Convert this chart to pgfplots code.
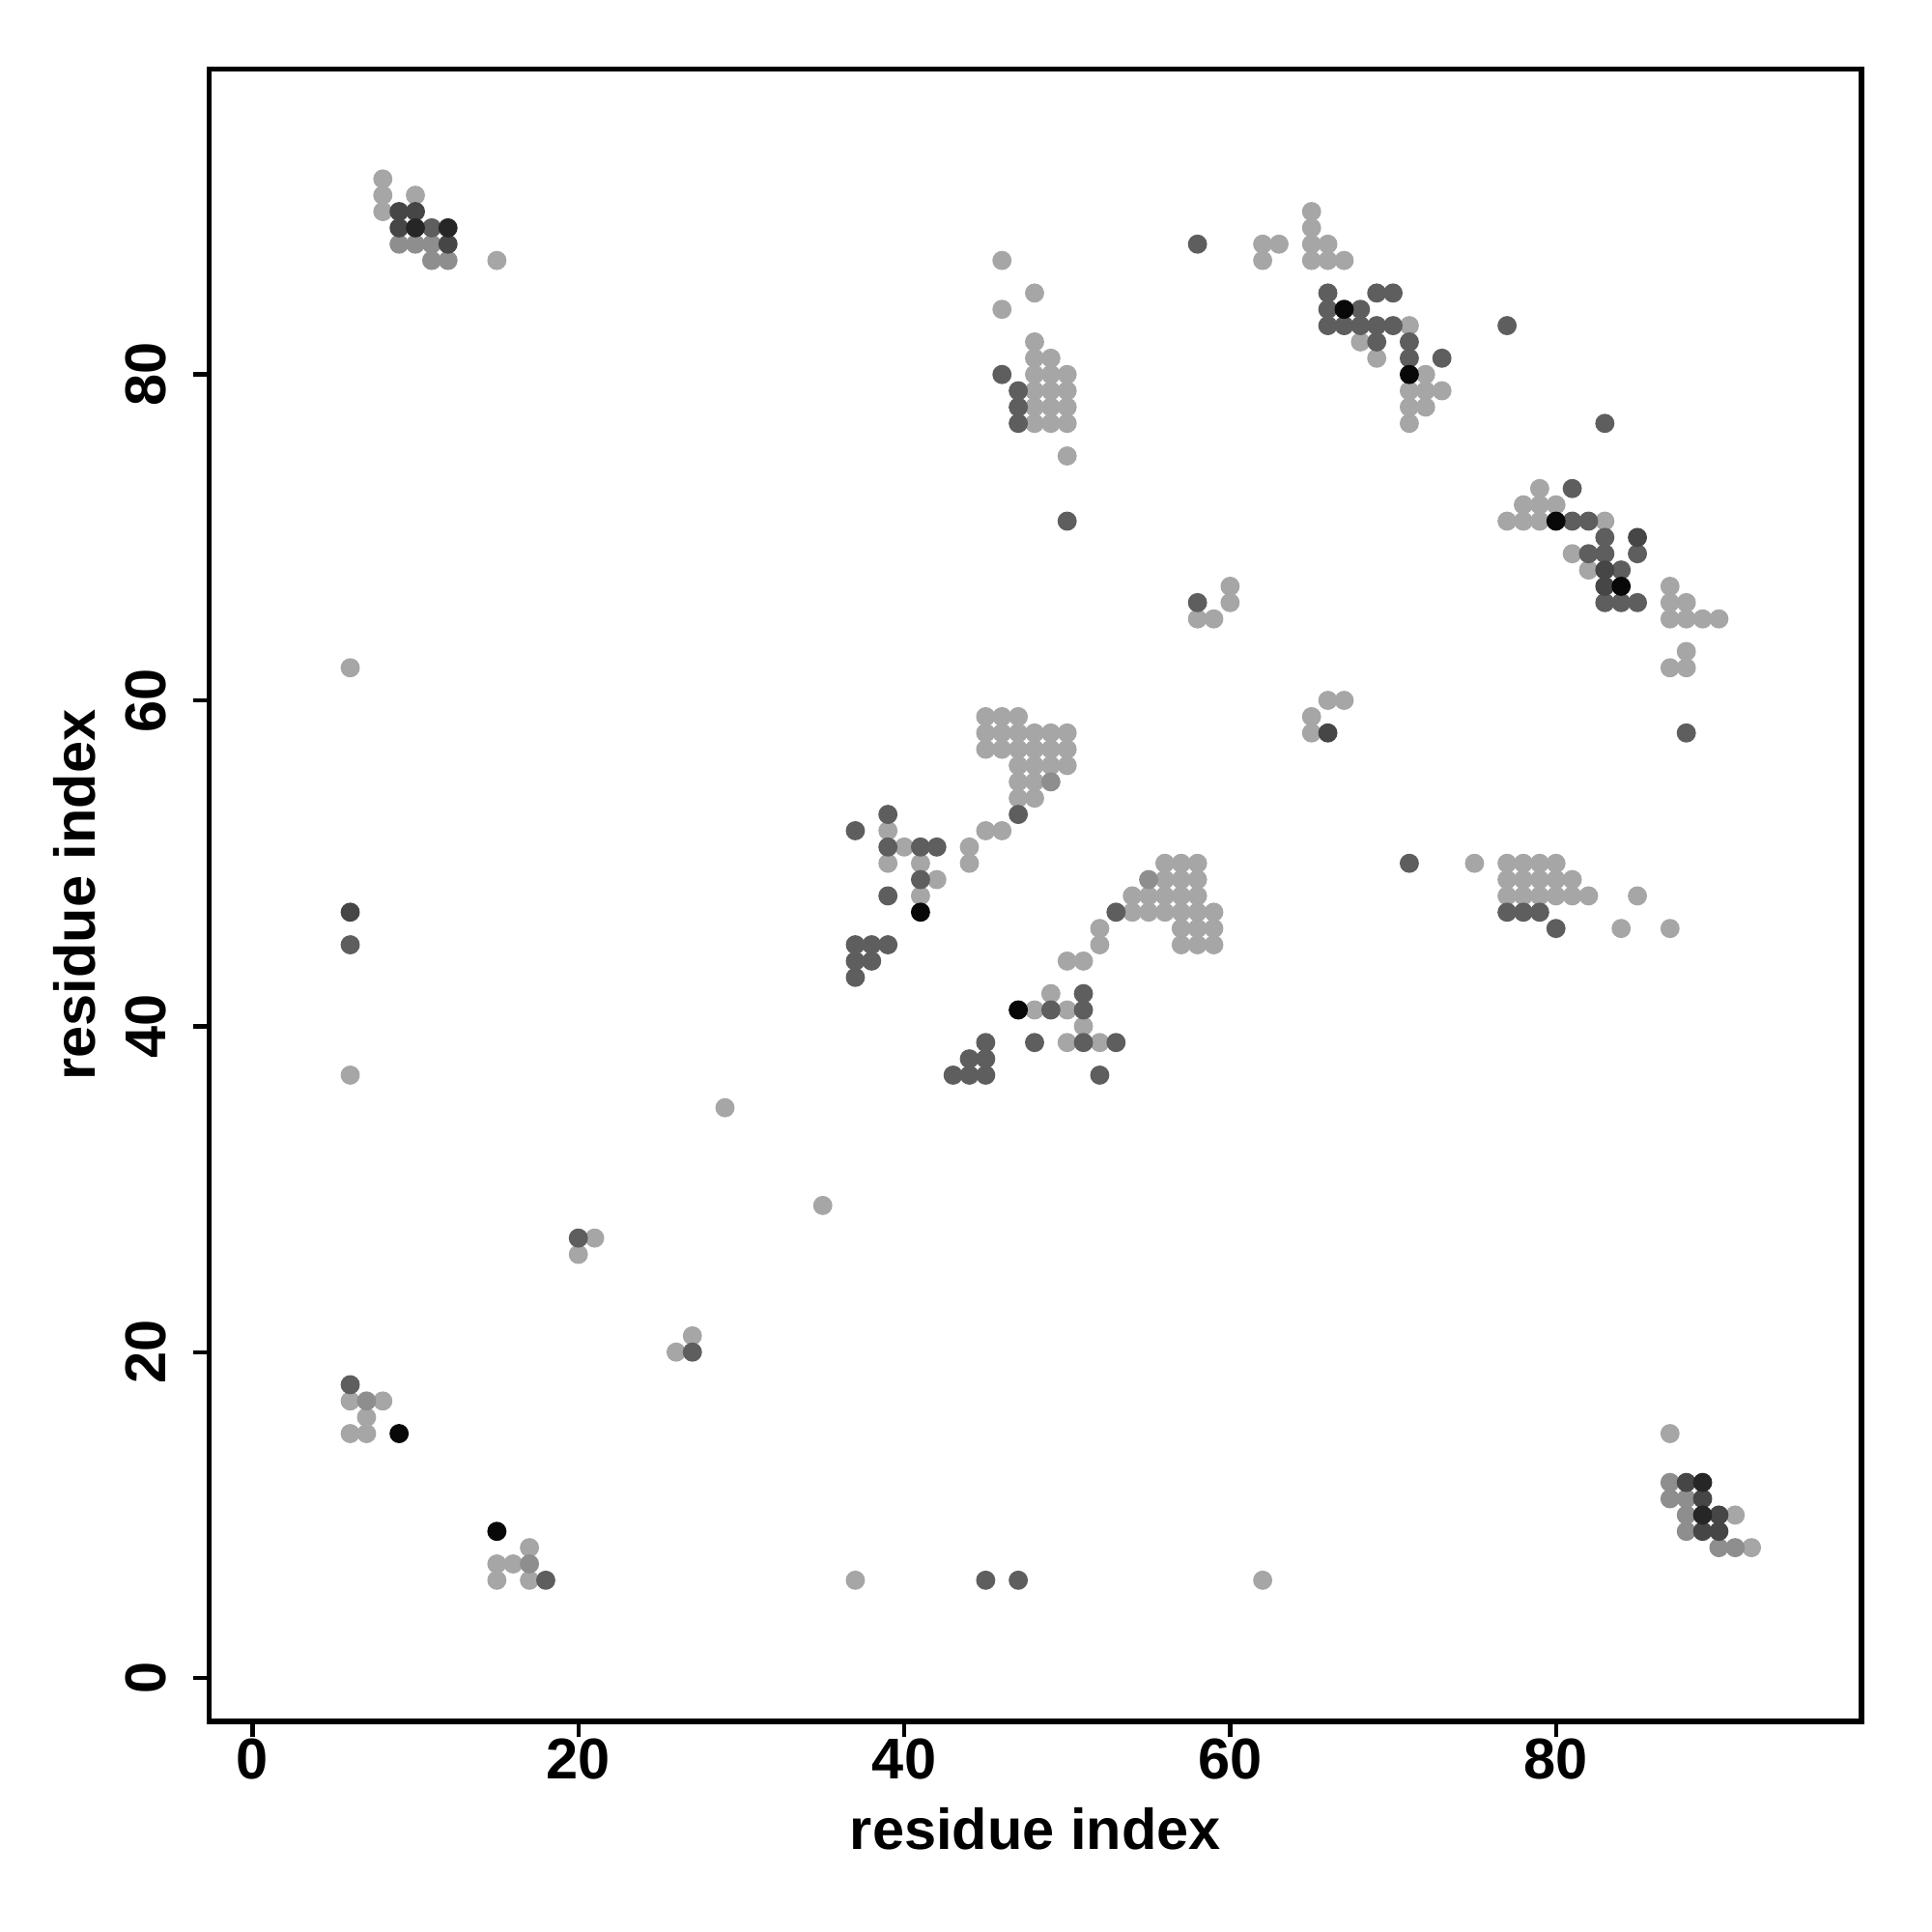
\documentclass[border=0pt]{standalone}
\usepackage{fontspec}
\setmainfont{Liberation Sans}
\usepackage{pgfplots}
\pgfplotsset{compat=1.18}
\definecolor{cL}{HTML}{A6A6A6}
\definecolor{cM}{HTML}{8E8E8E}
\definecolor{cD}{HTML}{5E5E5E}
\definecolor{cDD}{HTML}{464646}
\definecolor{cDDD}{HTML}{262626}
\definecolor{cK}{HTML}{080808}
\begin{document}
\begin{tikzpicture}
\begin{axis}[name=ax, scale only axis, width=431pt, height=431pt,
  xmin=-2.65, xmax=98.75, ymin=-2.65, ymax=98.75,
  axis line style={line width=1.4pt},
  tick style={line width=1.1pt, black},
  major tick length=4.2pt, tick align=outside,
  xtick pos=lower, ytick pos=lower,
  xtick={0,20,40,60,80}, xticklabels={0,20,40,60,80},
  ytick={0,20,40,60,80}, yticklabels={0,20,40,60,80},
  minor tick num=0,
  ticklabel style={font=\fontsize{15}{18}\selectfont\bfseries},
  xticklabel style={anchor=center, yshift=-5.6pt},
  yticklabel style={xshift=-12.4pt, rotate=90, anchor=center},
  label style={font=\fontsize{15}{18}\selectfont\bfseries},
  xlabel={residue index}, ylabel={residue index},
  xlabel style={at={(axis description cs:0.5,-0.065)}, anchor=center},
  ylabel style={at={(axis description cs:-0.0815,0.5)}, anchor=center},
  every axis plot/.append style={only marks, mark=*, mark size=2.3pt},
]
% light
\addplot[mark options={fill=cL, draw=cL}] coordinates {
(8,92)(8,91)(10,91)(8,90)(15,87)
(46,87)(48,85)(46,84)(48,82)(48,81)(49,81)(48,80)(49,80)(50,80)(48,79)(49,79)(50,79)(48,78)(49,78)(50,78)(48,77)(49,77)(50,77)(50,75)
(62,88)(63,88)(62,87)(65,90)(65,89)(65,88)(66,88)(65,87)(66,87)(67,87)(71,83)(68,82)(69,81)(72,80)(71,79)(72,79)(73,79)(71,78)(72,78)(71,77)
(79,73)(78,72)(79,72)(80,72)(77,71)(78,71)(79,71)(83,71)(81,69)(82,68)(87,67)(87,66)(88,66)(87,65)(88,65)(89,65)(90,65)(88,63)(87,62)(88,62)
(45,59)(46,59)(47,59)(45,58)(46,58)(47,58)(48,58)(49,58)(50,58)(45,57)(46,57)(47,57)(48,57)(49,57)(50,57)(47,56)(48,56)(49,56)(50,56)(47,55)(48,55)(47,54)(48,54)(45,52)(46,52)(39,52)(40,51)(44,51)(44,50)(39,50)(41,50)(42,49)(41,48)
(52,46)(52,45)(50,44)(51,44)(49,42)(48,41)(50,41)(51,40)(50,39)(52,39)
(54,48)(55,48)(56,48)(57,48)(58,48)(56,49)(57,49)(58,49)(56,50)(57,50)(58,50)(54,47)(55,47)(56,47)(57,47)(58,47)(59,47)(57,46)(58,46)(59,46)(57,45)(58,45)(59,45)
(66,60)(67,60)(65,59)(65,58)(75,50)(77,50)(78,50)(79,50)(80,50)(77,49)(78,49)(79,49)(80,49)(81,49)(77,48)(78,48)(79,48)(80,48)(81,48)(82,48)(85,48)(84,46)(87,46)
(60,67)(60,66)(58,65)(59,65)(6,62)(6,37)(29,35)(35,29)(21,27)(20,26)(27,21)(26,20)(6,17)(8,17)(7,16)(6,15)(7,15)(17,8)(15,7)(16,7)(15,6)(17,6)(37,6)(62,6)(87,15)(91,10)(92,8)
};
% medium
\addplot[mark options={fill=cM, draw=cM}] coordinates {
(9,88)(10,88)(11,88)(11,87)(12,87)(49,55)(55,49)(7,17)(17,7)(87,12)(87,11)(88,11)(88,10)(88,9)(90,8)(91,8)
};
% dark
\addplot[mark options={fill=cD, draw=cD}] coordinates {
(11,89)(46,80)(47,79)(47,78)(47,77)(50,71)
(58,88)(66,85)(69,85)(70,85)(66,84)(68,84)(66,83)(67,83)(68,83)(69,83)(70,83)(69,82)(71,82)(71,81)(73,81)
(77,83)(83,77)(81,73)(81,71)(82,71)(83,70)(82,69)(83,69)(85,69)(84,68)(83,66)(84,66)(85,66)(88,58)
(47,53)(37,52)(39,53)(39,51)(41,51)(42,51)(41,49)(39,48)(37,45)(38,45)(39,45)(37,44)(38,44)(37,43)
(53,47)(51,42)(49,41)(51,41)(48,39)(51,39)(53,39)(52,37)(45,39)(44,38)(45,38)(43,37)(44,37)(45,37)
(71,50)(77,47)(78,47)(79,47)(80,46)(58,66)
(6,45)(20,27)(27,20)(6,18)(18,6)(45,6)(47,6)
};
% darker
\addplot[mark options={fill=cDD, draw=cDD}] coordinates {
(9,90)(10,90)(9,89)(12,88)(85,70)(83,68)(83,67)(66,58)(6,47)(88,12)(89,11)(90,10)(89,9)(90,9)
};
% very dark
\addplot[mark options={fill=cDDD, draw=cDDD}] coordinates {
(10,89)(12,89)(89,12)(89,10)
};
% black
\addplot[mark options={fill=cK, draw=cK}] coordinates {
(67,84)(71,80)(80,71)(84,67)(41,47)(47,41)(9,15)(15,9)
};
\end{axis}
\path ([xshift=-54.6pt,yshift=-55pt]ax.south west) rectangle ([xshift=18.3pt,yshift=18pt]ax.north east);
\end{tikzpicture}
\end{document}
